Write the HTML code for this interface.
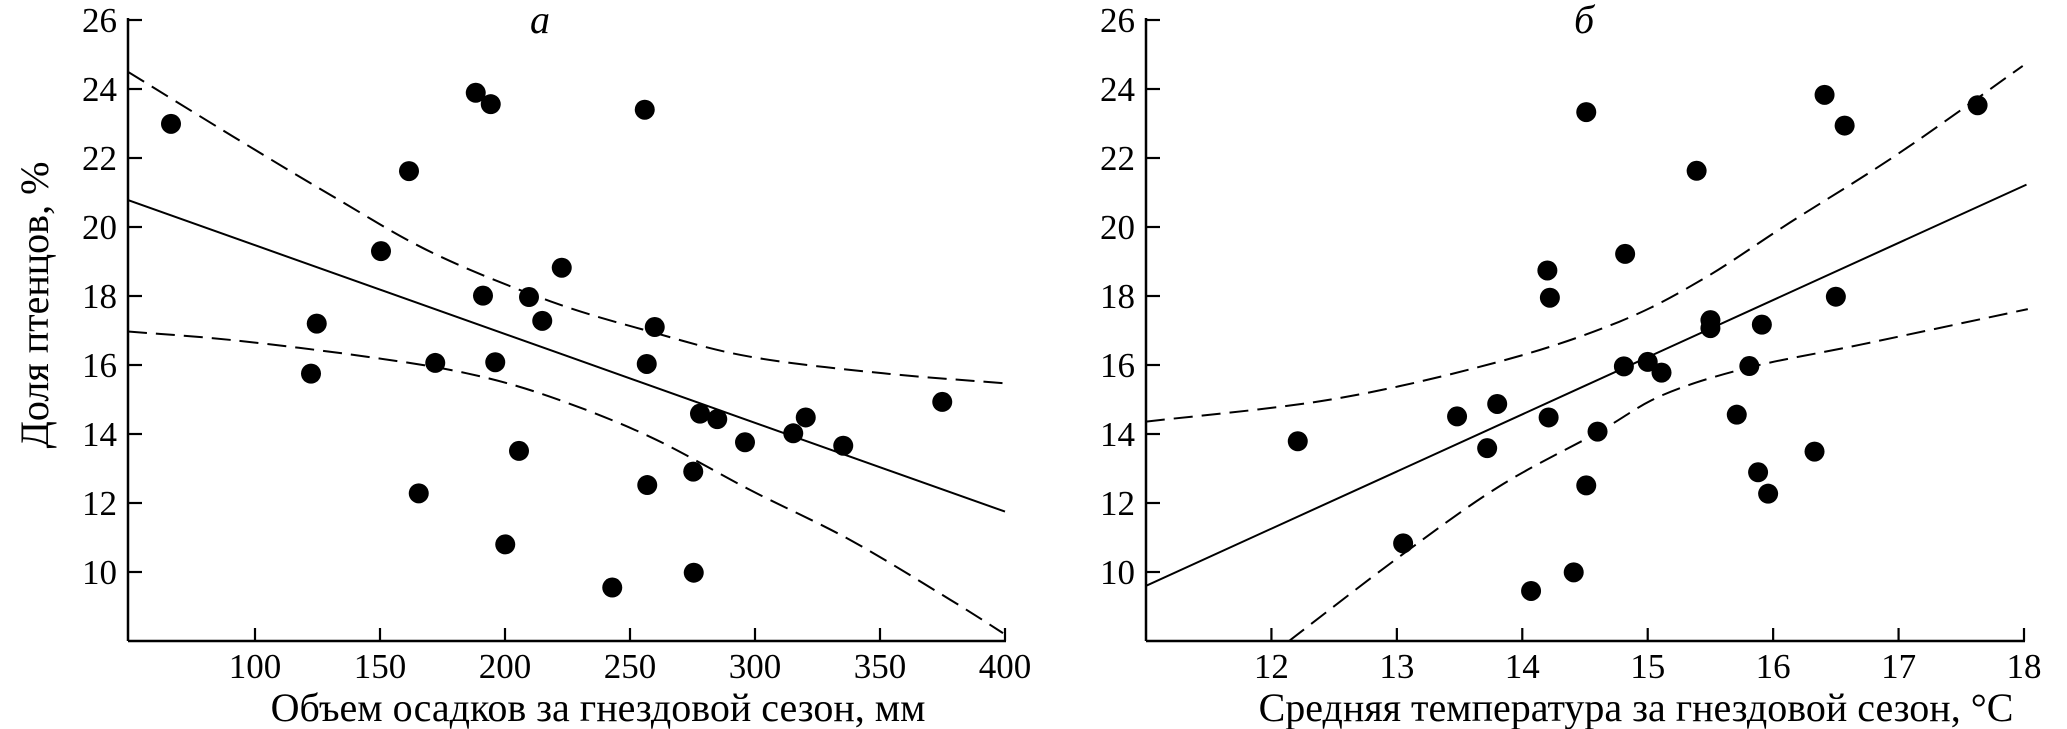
<!DOCTYPE html>
<html><head><meta charset="utf-8">
<style>
html,body{margin:0;padding:0;background:#fff;}
svg{display:block;}
text{font-family:"Liberation Serif","Times New Roman",serif;fill:#000;}
</style></head>
<body>
<svg id="chart" width="2067" height="729" viewBox="0 0 2067 729" xmlns="http://www.w3.org/2000/svg">
<g id="pa"></g>
<g id="pb"></g>
</svg>
<script>
// Panel a data (precipitation, mm vs share of chicks, %)
const aX = [66.4,188.3,194.3,161.6,150.4,191.2,209.6,214.9,124.7,122.4,172.1,196.1,165.5,205.6,200.1,222.7,259.9,256.7,278,284.9,296,315.3,320.3,335.3,374.9,275.3,256.9,275.5,242.9,255.9];
const aY = [22.99,23.89,23.56,21.62,19.30,18.01,17.97,17.28,17.2,15.75,16.06,16.08,12.28,13.51,10.80,18.82,17.10,16.03,14.59,14.43,13.76,14.02,14.48,13.66,14.93,12.91,12.52,9.98,9.55,23.4];
const aFitX = [49.2,400];
const aFitY = [20.78,11.75];
const aUpX = [49.2,91.3,131.3,171.3,218,258,298,351.3,400];
const aUpY = [24.50,22.62,20.88,19.24,17.85,16.97,16.24,15.76,15.47];
const aLoX = [49.2,91.3,144.7,184.7,218,258,298,338,378,399.2];
const aLoY = [16.97,16.72,16.24,15.76,15.08,13.92,12.38,10.93,9.2,8.23];
const aTicksX = [100,150,200,250,300,350,400];
// Panel b data (temperature, °C vs share of chicks, %)
const bX = [14.51,16.41,16.57,17.63,15.39,14.82,14.20,14.22,16.50,15.50,15.50,15.91,14.81,15.00,15.11,15.81,14.21,14.60,15.71,16.33,15.88,15.96,14.51,14.41,14.07,12.21,13.48,13.72,13.80,13.05];
const bY = [23.33,23.83,22.94,23.53,21.63,19.22,18.74,17.95,17.98,17.30,17.07,17.17,15.96,16.09,15.78,15.97,14.48,14.07,14.56,13.49,12.89,12.27,12.51,9.99,9.45,13.79,14.51,13.59,14.87,10.83];
const bFitX = [11,18.02];
const bFitY = [9.6,21.23];
const bUpX = [11,12.49,13.82,14.77,15.44,16.13,17.0,17.99];
const bUpY = [14.36,15.01,16.10,17.25,18.49,20.12,22.13,24.67];
const bLoX = [12.14,13.03,13.82,14.60,15.12,15.81,16.71,18.03];
const bLoY = [8.0,10.47,12.49,14.04,15.13,15.93,16.6,17.62];
const bTicksX = [12,13,14,15,16,17,18];
const yTicks = [10,12,14,16,18,20,22,24,26];

const NS="http://www.w3.org/2000/svg";
const FF='"Liberation Serif", serif';
function mk(parent,tag,attrs,txt){const e=document.createElementNS(NS,tag);for(const k in attrs)e.setAttribute(k,attrs[k]);if(txt!==undefined)e.textContent=txt;parent.appendChild(e);return e;}
const yScale=v=>20+(26-v)*34.5;
const yBottom=641;

function smoothPath(P){
  let d='M'+P[0][0].toFixed(1)+','+P[0][1].toFixed(1);
  for(let i=0;i<P.length-1;i++){
    const p0=P[i-1]||P[i],p1=P[i],p2=P[i+1],p3=P[i+2]||P[i+1];
    const c1=[p1[0]+(p2[0]-p0[0])/6,p1[1]+(p2[1]-p0[1])/6];
    const c2=[p2[0]-(p3[0]-p1[0])/6,p2[1]-(p3[1]-p1[1])/6];
    d+=' C'+c1[0].toFixed(1)+','+c1[1].toFixed(1)+' '+c2[0].toFixed(1)+','+c2[1].toFixed(1)+' '+p2[0].toFixed(1)+','+p2[1].toFixed(1);
  }
  return d;
}

function panel(g,xmin,xmax,px0,px1,ticks,xs,ys,fx,fy,ux,uy,lx,ly,title,letter,letterX,tcx){
  const xS=v=>px0+(v-xmin)/(xmax-xmin)*(px1-px0);
  const clip='c'+g.id;
  const defs=mk(g,'defs',{});
  const cp=mk(defs,'clipPath',{id:clip});
  mk(cp,'rect',{x:px0,y:0,width:px1-px0+4,height:yBottom});
  const ya=mk(g,'line',{x1:px0,y1:18,x2:px0,y2:yBottom,stroke:'#000','stroke-width':2.5});
  
  
  const xa=mk(g,'line',{x1:px0,y1:yBottom,x2:px1+1,y2:yBottom,stroke:'#000','stroke-width':2.5});
  
  
  yTicks.forEach(t=>{
    const y=yScale(t);
    const l=mk(g,'line',{x1:px0,y1:y,x2:px0+14,y2:y,stroke:'#000','stroke-width':2.2});
    
    
    const tx=mk(g,'text',{x:px0-11,y:y+12,'text-anchor':'end','font-size':35,'font-family':FF},String(t));
    
    
  });
  ticks.forEach(t=>{
    const x=xS(t);
    const l=mk(g,'line',{x1:x,y1:yBottom,x2:x,y2:yBottom-13,stroke:'#000','stroke-width':2.2});
    
    
    const tx=mk(g,'text',{x:x,y:678,'text-anchor':'middle','font-size':35,'font-family':FF},String(t));
    
    
  });
  const cg=mk(g,'g',{'clip-path':'url(#'+clip+')'});
  const arr=(X,Y)=>X.map((v,i)=>[xS(v),yScale(Y[i])]);
  const fit=mk(cg,'path',{d:smoothPath(arr(fx,fy)),fill:'none',stroke:'#000','stroke-width':2});
  
  
  const up=mk(cg,'path',{d:smoothPath(arr(ux,uy)),fill:'none',stroke:'#000','stroke-width':2,'stroke-dasharray':'19 9'});
  
  
  const lo=mk(cg,'path',{d:smoothPath(arr(lx,ly)),fill:'none',stroke:'#000','stroke-width':2,'stroke-dasharray':'19 9'});
  
  
  xs.forEach((v,i)=>{
    const c=mk(g,'circle',{cx:xS(v),cy:yScale(ys[i]),r:10,fill:'#000'});
    
    
  });
  const tt=mk(g,'text',{x:tcx,y:721,'text-anchor':'middle','font-size':40,'font-family':FF},title);
  
  
  const lt=mk(g,'text',{x:letterX,y:33,'text-anchor':'middle','font-size':40,'font-style':'italic','font-family':FF},letter);
  
  
}
panel(document.getElementById('pa'),49.2,400,128,1005,aTicksX,aX,aY,aFitX,aFitY,aUpX,aUpY,aLoX,aLoY,'Объем осадков за гнездовой сезон, мм','а',540,598);
panel(document.getElementById('pb'),11,18,1146,2024,bTicksX,bX,bY,bFitX,bFitY,bUpX,bUpY,bLoX,bLoY,'Средняя температура за гнездовой сезон, °C','б',1584,1636);
const yt=mk(document.getElementById('chart'),'text',{x:0,y:0,'text-anchor':'middle','font-size':40,'font-family':FF,transform:'translate(48,305) rotate(-90)'},'Доля птенцов, %');


</script>
</body></html>
